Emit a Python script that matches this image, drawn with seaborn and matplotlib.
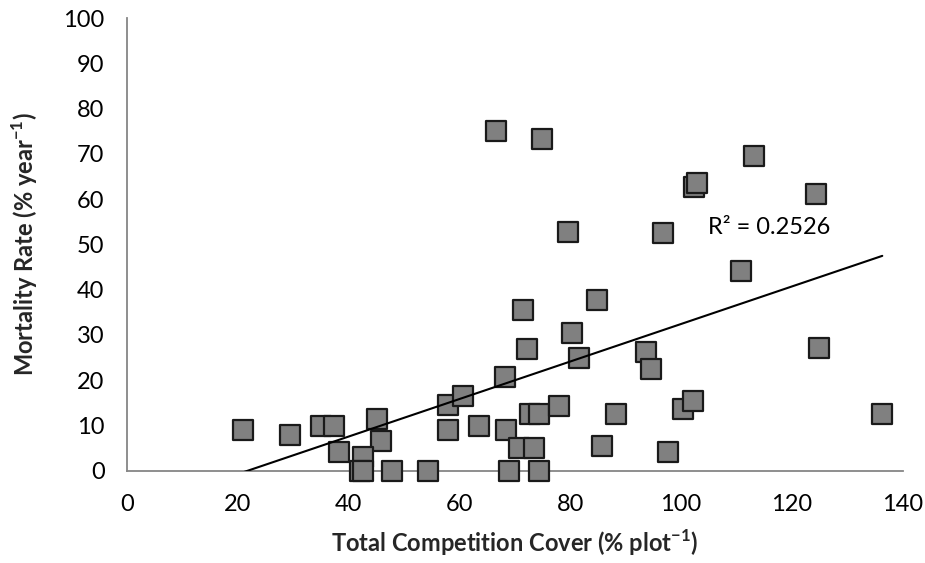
import numpy as np
import pandas as pd
import matplotlib
matplotlib.use("Agg")
import matplotlib.pyplot as plt
import seaborn as sns

# Competition cover (% per plot) and mortality rate (% per year) for each plot
cover = [21.0, 29.5, 35.0, 37.4, 38.3, 45.1, 45.9, 42.6, 42.1, 42.6,
         47.8, 54.3, 57.9, 57.9, 60.6, 63.5, 66.6, 68.2, 68.4, 68.9,
         70.7, 71.4, 72.2, 72.7, 73.4, 74.3, 74.3, 75.0, 77.9, 79.6,
         80.3, 81.5, 84.8, 85.7, 88.2, 93.6, 94.5, 96.8, 97.6, 100.3,
         102.1, 102.4, 102.8, 110.9, 113.1, 124.4, 124.8, 136.3]
mortality = [8.9, 7.8, 9.8, 9.8, 4.1, 11.4, 6.5, 3.0, 0.0, 0.0,
             0.0, 0.0, 14.5, 9.0, 16.5, 9.8, 75.0, 20.7, 9.0, 0.0,
             5.0, 35.5, 26.9, 12.5, 5.0, 12.5, 0.0, 73.3, 14.3, 52.7,
             30.4, 24.9, 37.7, 5.4, 12.5, 26.2, 22.4, 52.5, 4.1, 13.6,
             15.4, 62.7, 63.6, 44.1, 69.5, 61.1, 27.1, 12.5]

x_ticks = [0, 20, 40, 60, 80, 100, 120, 140]
y_ticks = [0, 10, 20, 30, 40, 50, 60, 70, 80, 90, 100]
r2_label = "R² = 0.2526"

df = pd.DataFrame({"cover": cover, "mortality": mortality})

sns.set_theme(style="white")
plt.rcParams["font.family"] = ["Lato", "DejaVu Sans"]
plt.rcParams["mathtext.fontset"] = "custom"
plt.rcParams["mathtext.rm"] = "Lato"
plt.rcParams["mathtext.bf"] = "Lato:bold"

fig = plt.figure(figsize=(9.25, 5.63), dpi=100)
ax = fig.add_axes([0.137, 0.164, 0.839, 0.804])

axis_grey = "#868686"
fs = 17

sns.scatterplot(data=df, x="cover", y="mortality", ax=ax, marker="s", s=190,
                color="#808080", edgecolor="#1a1a1a", linewidth=1.6,
                zorder=3, clip_on=False, legend=False)
sns.regplot(data=df, x="cover", y="mortality", ax=ax, scatter=False, ci=None,
            truncate=True, line_kws={"color": "black", "linewidth": 1.5, "zorder": 4})

ax.set_xlim(0, 140)
ax.set_ylim(0, 100)
ax.set_xticks(x_ticks)
ax.set_yticks(y_ticks)

for side in ["top", "right"]:
    ax.spines[side].set_visible(False)
for side in ["left", "bottom"]:
    ax.spines[side].set_color(axis_grey)
    ax.spines[side].set_linewidth(1.3)
    ax.spines[side].set_zorder(2)

ax.tick_params(axis="both", which="major", direction="out", length=7, width=1.3,
               color=axis_grey, labelsize=fs, labelcolor="black")
ax.tick_params(axis="y", pad=9)
ax.tick_params(axis="x", pad=10)

ax.set_xlabel(r"Total Competition Cover (% plot$^{\mathbf{-1}}$)", fontsize=fs,
              fontweight="bold", labelpad=9)
ax.set_ylabel(r"Mortality Rate (% year$^{\mathbf{-1}}$)", fontsize=fs,
              fontweight="bold", labelpad=17)

ax.text(104.8, 53.8, r2_label, fontsize=fs, va="center", ha="left", color="black")

fig.savefig("out.png", dpi=100)
